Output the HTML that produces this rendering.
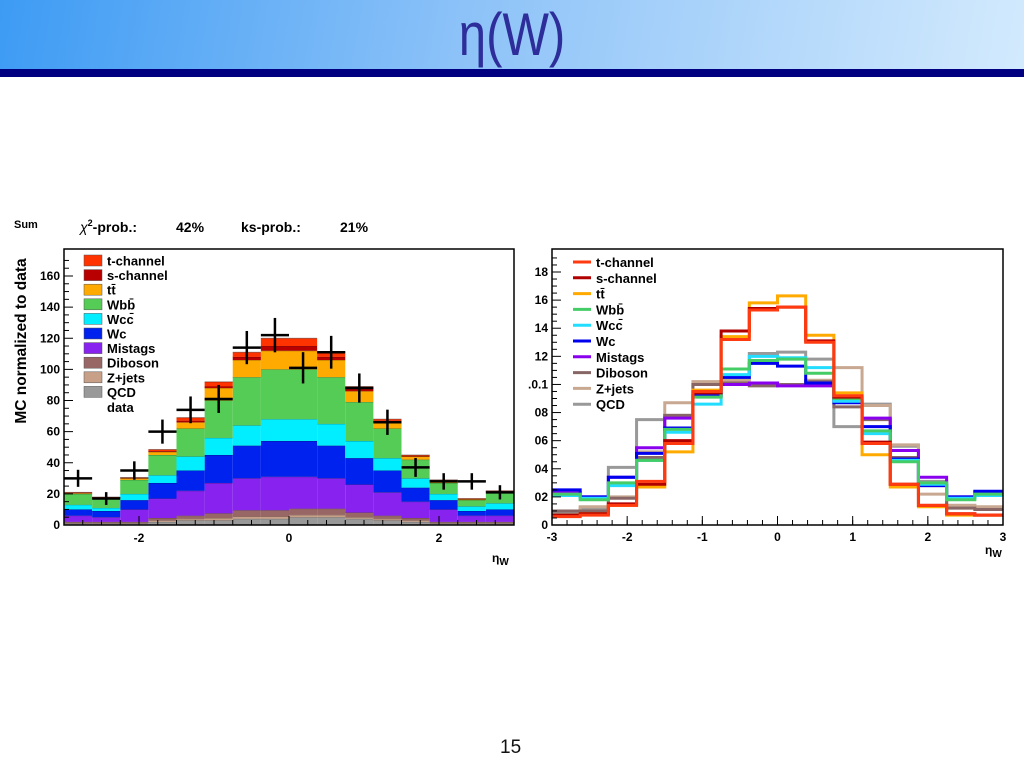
<!DOCTYPE html>
<html><head><meta charset="utf-8">
<style>
body{margin:0;width:1024px;height:768px;overflow:hidden;background:#fff;font-family:"Liberation Sans",sans-serif;}
#hdr{position:absolute;left:0;top:0;width:1024px;height:69px;background:linear-gradient(100deg,#3d9bf4 0%,#8cc2f8 45%,#d3eafd 100%);}
#bar{position:absolute;left:0;top:69px;width:1024px;height:8px;background:#000080;}
#title{position:absolute;left:0;width:1024px;top:0px;text-align:center;font-size:60px;color:#2e2e9a;transform:scaleX(0.82);}
#pg{position:absolute;left:500px;top:737px;font-size:19px;color:#111;}
svg{position:absolute;left:0;top:0;}
text{font-family:"Liberation Sans",sans-serif;font-weight:bold;}
</style></head><body>
<div id="hdr"></div>
<div id="bar"></div>
<div id="title">η(W)</div>
<div id="pg">15</div>
<svg id="svg" width="1024" height="768">
<text x="14" y="228" font-size="11">Sum</text>
<text x="80" y="232" font-size="14"><tspan font-style="italic" font-weight="normal">χ</tspan><tspan font-size="9" dy="-6">2</tspan><tspan dy="6">-prob.:</tspan></text>
<text x="176" y="232" font-size="14">42%</text>
<text x="241" y="232" font-size="14">ks-prob.:</text>
<text x="340" y="232" font-size="14">21%</text>
<text transform="translate(26,341) rotate(-90)" font-size="15.5" text-anchor="middle">MC normalized to data</text>
</svg>
<script>
const edges=16;
const names=["t-channel","s-channel","tt̄","Wbb̄","Wcc̄","Wc","Mistags","Diboson","Z+jets","QCD"];
const fillColors=["#ff3300","#b80000","#ffaa00","#55cc55","#00eeff","#0022ee","#8822ee","#996666","#c8a088","#999999"];
const lineColors=["#ff3a10","#b00000","#ffaa00","#44cc66","#22ddff","#0000ee","#8800ee","#886666","#c8a890","#999999"];
// stacked components (left), bottom to top
const qcd=[1,1,1,2,3,3,4,4,5,5,4,3,2,1,1,1];
const zjets=[.5,.5,.5,1,1,1.5,1.5,1.5,1.5,1.5,1,1,1,.5,.5,.5];
const diboson=[.5,.5,.5,1.5,2,3,4,4,4,4,3,2,1.5,.5,.5,.5];
const mistags=[4,3,8,12.5,16,19.5,20.5,21.5,20.5,19.5,18,15,10.5,8,4,4];
const wc=[4,4,6,10,13,18,21,23,23,21,17,14,9,6,3,4];
const wcc=[3,2,4,5,9,11,13,14,14,14,11,8,6,4,3,4];
const wbb=[7,6,9,13,18,24,31,32,32,30,25,19,12,7,4,7];
const ttbar=[.5,.5,1,2,4,8,11,12,12,11,7,4,2,1.5,.5,.5];
const schan=[.2,.2,.3,.5,1,1,2,3,3,2,2,1,.5,.2,.2,.2];
const tchan=[.3,.3,.2,1,2,3,3,5,5,3,1,1,.5,.3,.3,.3];
const dataVals=[30,17,35,60,74,81,114,122,101,111,88,66,37,28,28,21];
const leftYTicks=[0,20,40,60,80,100,120,140,160];
const leftXTicks=[-2,0,2];
// normalized shapes (right)
const shT=[0.6,0.7,1.4,3.1,5.8,9.5,13.2,15.3,15.5,13.0,9.2,5.8,2.9,1.4,0.8,0.7];
const shS=[0.7,0.8,1.5,2.9,6.0,9.4,13.8,15.4,15.5,13.1,9.1,5.9,2.9,1.4,0.8,0.7];
const shTT=[0.7,0.8,1.4,2.7,5.2,9.6,13.4,15.8,16.3,13.5,9.4,5.0,2.7,1.3,0.7,0.7];
const shWbb=[2.2,1.8,3.0,4.6,6.8,9.1,11.1,11.7,11.8,10.8,9.0,6.7,4.5,3.0,1.8,2.2];
const shWcc=[2.1,1.9,2.8,4.6,6.6,8.6,10.7,12.0,11.9,11.2,8.8,6.5,4.6,2.9,1.9,2.1];
const shWc=[2.5,2.0,3.4,5.1,6.9,9.2,10.5,11.5,11.3,10.1,8.7,7.0,4.7,2.8,2.0,2.4];
const shMis=[2.3,2.0,3.4,5.5,7.6,9.2,10.0,10.1,9.9,9.9,8.8,7.6,5.3,3.4,2.0,2.3];
const shDib=[1.0,1.0,1.9,4.8,7.8,10.0,10.1,9.9,10.0,10.2,8.4,7.5,4.8,2.8,1.2,1.1];
const shZ=[1.0,1.3,2.0,5.2,8.7,10.2,10.3,10.0,10.0,10.3,11.2,8.5,5.7,2.2,1.4,1.3];
const shQCD=[0.9,1.2,4.1,7.5,7.8,10.0,10.4,12.2,12.3,11.8,7.0,8.6,5.6,3.1,1.4,1.2];
const rightYTicks=[0,2,4,6,8,10,12,14,16,18];
const rightYLabels=["0","02","04","06","08",".0.1","12","14","16","18"];
const rightXTicks=[-3,-2,-1,0,1,2,3];

const NS="http://www.w3.org/2000/svg";
const svg=document.getElementById('svg');
function mk(tag,attrs,parent){const e=document.createElementNS(NS,tag);for(const k in attrs)e.setAttribute(k,attrs[k]);(parent||svg).appendChild(e);return e;}
const binW=6/edges;

// LEFT
const L={x0:64,x1:514,y0:525,y1:249};
const lx=v=>L.x0+(v+3)/6*(L.x1-L.x0);
function lyy(v){return 525-v*(525-276)/160;}
const stack=[qcd,zjets,diboson,mistags,wc,wcc,wbb,ttbar,schan,tchan];
const stackColors=[fillColors[9],fillColors[8],fillColors[7],fillColors[6],fillColors[5],fillColors[4],fillColors[3],fillColors[2],fillColors[1],fillColors[0]];
const stackNames=["qcd","zjets","diboson","mistags","wc","wcc","wbb","ttbar","s-channel","t-channel"];
const cum=new Array(edges).fill(0);
stack.forEach((s,si)=>{
  for(let i=0;i<edges;i++){
    const a=-3+i*binW, b=a+binW;
    const bot=cum[i], top=cum[i]+s[i];
    const r=mk('rect',{x:lx(a),y:lyy(top),width:lx(b)-lx(a),height:Math.max(0,lyy(bot)-lyy(top)),fill:stackColors[si]});
    
    
    mk('line',{x1:lx(a),x2:lx(b),y1:lyy(top),y2:lyy(top),stroke:'rgba(0,0,0,0.35)','stroke-width':1});
    cum[i]=top;
  }
});
dataVals.forEach((v,i)=>{
  const c=-3+(i+0.5)*binW, e=Math.sqrt(v);
  const g=mk('g',{});
  
  
  mk('line',{x1:lx(c-binW/2),x2:lx(c+binW/2),y1:lyy(v),y2:lyy(v),stroke:'#000','stroke-width':2.5},g);
  mk('line',{x1:lx(c),x2:lx(c),y1:lyy(v+e),y2:lyy(v-e),stroke:'#000','stroke-width':2.5},g);
});
mk('rect',{x:L.x0,y:L.y1,width:L.x1-L.x0,height:L.y0-L.y1,fill:'none',stroke:'#000','stroke-width':1.5});
leftYTicks.forEach(t=>{
  mk('line',{x1:L.x0,x2:L.x0+9,y1:lyy(t),y2:lyy(t),stroke:'#000'});
  const tx=mk('text',{x:L.x0-4,y:lyy(t)+4,'font-size':12,'text-anchor':'end'});tx.textContent=t;
  
  
});
for(let t=0;t<=170;t+=5){if(t%20)mk('line',{x1:L.x0,x2:L.x0+5,y1:lyy(t),y2:lyy(t),stroke:'#000'});}
leftXTicks.forEach(t=>{
  mk('line',{x1:lx(t),x2:lx(t),y1:L.y0,y2:L.y0-9,stroke:'#000'});
  const tx=mk('text',{x:lx(t),y:L.y0+17,'font-size':12,'text-anchor':'middle'});tx.textContent=t;
  
  
});
for(let t=-3;t<=3.01;t+=0.25){mk('line',{x1:lx(t),x2:lx(t),y1:L.y0,y2:L.y0-5,stroke:'#000'});}
let xt=mk('text',{x:492,y:562,'font-size':12,'font-weight':'normal'});xt.innerHTML='η<tspan font-size="10" dy="3" font-weight="bold">W</tspan>';


names.forEach((n,i)=>{
  const y=261+i*14.6;
  const sw=mk('rect',{x:84,y:y-6,width:18,height:11,fill:fillColors[i],stroke:'#555','stroke-width':0.5});
  
  
  const t=mk('text',{x:107,y:y+4.5,'font-size':13});t.textContent=n;
  
  
});
let dt=mk('text',{x:107,y:412,'font-size':13});dt.textContent='data';



// RIGHT
const R={x0:552,x1:1003,y0:525,y1:249};
const rx=v=>R.x0+(v+3)/6*(R.x1-R.x0);
const ry=v=>R.y0-v*(525-272)/18;
const shapes=[shT,shS,shTT,shWbb,shWcc,shWc,shMis,shDib,shZ,shQCD];
const drawOrder=[9,8,7,6,5,4,3,2,1,0];
drawOrder.forEach(si=>{
  const s=shapes[si];
  let d='M'+rx(-3)+','+ry(s[0]);
  for(let i=0;i<edges;i++){
    const a=-3+i*binW,b=a+binW;
    d+=' L'+rx(a)+','+ry(s[i])+' L'+rx(b)+','+ry(s[i]);
  }
  const p=mk('path',{d:d,fill:'none',stroke:lineColors[si],'stroke-width':3});
  
  
});
mk('rect',{x:R.x0,y:R.y1,width:R.x1-R.x0,height:R.y0-R.y1,fill:'none',stroke:'#000','stroke-width':1.5});
rightYTicks.forEach((t,i)=>{
  mk('line',{x1:R.x0,x2:R.x0+9,y1:ry(t),y2:ry(t),stroke:'#000'});
  const tx=mk('text',{x:R.x0-4,y:ry(t)+4,'font-size':12,'text-anchor':'end'});tx.textContent=rightYLabels[i];
  
  
});
for(let t=0;t<=19;t+=0.5){if(t%2)mk('line',{x1:R.x0,x2:R.x0+5,y1:ry(t),y2:ry(t),stroke:'#000'});}
rightXTicks.forEach(t=>{
  mk('line',{x1:rx(t),x2:rx(t),y1:R.y0,y2:R.y0-9,stroke:'#000'});
  const tx=mk('text',{x:rx(t),y:R.y0+16,'font-size':12,'text-anchor':'middle'});tx.textContent=t;
  
  
});
for(let t=-3;t<=3.01;t+=0.2){mk('line',{x1:rx(t),x2:rx(t),y1:R.y0,y2:R.y0-5,stroke:'#000'});}
xt=mk('text',{x:985,y:554,'font-size':12,'font-weight':'normal'});xt.innerHTML='η<tspan font-size="10" dy="3" font-weight="bold">W</tspan>';


names.forEach((n,i)=>{
  const y=262+i*15.8;
  const ln=mk('line',{x1:573,x2:591,y1:y,y2:y,stroke:lineColors[i],'stroke-width':3});
  
  
  const t=mk('text',{x:596,y:y+5,'font-size':13});t.textContent=n;
  
  
});
</script>
</body></html>
